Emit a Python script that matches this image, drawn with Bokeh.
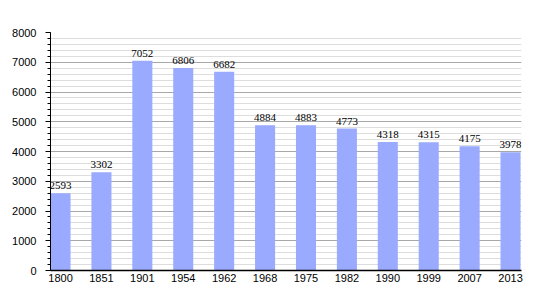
from bokeh.plotting import figure
from bokeh.models import FixedTicker, SingleIntervalTicker, Range1d, ColumnDataSource, LabelSet
from bokeh.embed import file_html
from bokeh.resources import INLINE

years = ["1800", "1851", "1901", "1954", "1962", "1968", "1975", "1982", "1990", "1999", "2007", "2013"]
population = [2593, 3302, 7052, 6806, 6682, 4884, 4883, 4773, 4318, 4315, 4175, 3978]
y_ticks = [0, 1000, 2000, 3000, 4000, 5000, 6000, 7000, 8000]

idx = list(range(len(years)))
src = ColumnDataSource(dict(x=idx, top=population, label=[str(v) for v in population]))

p = figure(width=550, height=300, output_backend="svg", toolbar_location=None,
           x_range=Range1d(-0.245, len(years) - 1 + 0.268), y_range=Range1d(0, 8000),
           min_border_left=50, min_border_right=29, min_border_top=32, min_border_bottom=30)
p.outline_line_color = None
p.background_fill_color = "white"

p.vbar(x="x", top="top", width=0.49, source=src, fill_color="#99aaff", line_color=None)

labels = LabelSet(x="x", y="top", text="label", source=src, text_align="center",
                  text_baseline="bottom", y_offset=4, text_font="Liberation Sans",
                  text_font_size="11px", text_color="black")
p.add_layout(labels)

p.xaxis.ticker = FixedTicker(ticks=idx)
p.xaxis.major_label_overrides = {i: y for i, y in enumerate(years)}
p.xaxis.major_tick_line_color = None
p.xaxis.minor_tick_line_color = None
p.xaxis.major_tick_in = 0
p.xaxis.major_tick_out = 0
p.xaxis.axis_line_color = "black"
p.xaxis.axis_line_width = 1.5
p.xaxis.major_label_standoff = 3
p.xaxis.major_label_text_font = "Liberation Sans"
p.xaxis.major_label_text_font_size = "11px"
p.xaxis.major_label_text_color = "black"

p.yaxis.ticker = SingleIntervalTicker(interval=1000, num_minor_ticks=5)
p.yaxis.axis_line_color = "black"
p.yaxis.major_tick_in = 0
p.yaxis.major_tick_out = 5
p.yaxis.minor_tick_in = 0
p.yaxis.minor_tick_out = 3
p.yaxis.major_tick_line_color = "black"
p.yaxis.minor_tick_line_color = "black"
p.yaxis.major_label_standoff = 9
p.yaxis.major_label_text_font = "Liberation Sans"
p.yaxis.major_label_text_font_size = "11px"
p.yaxis.major_label_text_color = "black"

p.xgrid.grid_line_color = None
p.ygrid.ticker = SingleIntervalTicker(interval=1000, num_minor_ticks=5)
p.ygrid.grid_line_color = "#a8a8a8"
p.ygrid.minor_grid_line_color = "#dddddd"
p.ygrid.level = "underlay"

open("out.html", "w").write(file_html(p, INLINE))
